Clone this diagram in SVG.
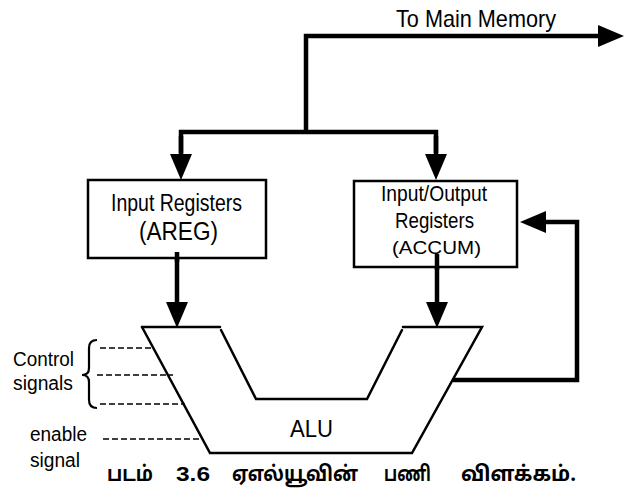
<svg xmlns="http://www.w3.org/2000/svg" width="624" height="488" viewBox="0 0 624 488">
<style>
.t{font-family:"Liberation Sans",Arial,sans-serif;fill:#000}
.bus{fill:none;stroke:#000;stroke-width:4.5;stroke-linejoin:miter;stroke-linecap:butt}
.box{fill:#fff;stroke:#000;stroke-width:2.5}
.alu{fill:none;stroke:#000;stroke-width:2.5;stroke-linecap:round}
.dash{fill:none;stroke:#000;stroke-width:1.3;stroke-dasharray:6 3}
.cap{font-family:"Noto Sans Tamil","Lohit Tamil","Noto Sans","Liberation Sans",sans-serif;font-size:21px;font-weight:bold;fill:#000}
</style>
<defs>
<marker id="ah" markerUnits="userSpaceOnUse" markerWidth="26" markerHeight="22" refX="0" refY="11" orient="auto">
<path d="M0,0 L26,11 L0,22 z" fill="#000"/>
</marker>
</defs>
<rect width="624" height="488" fill="#fff"/>
<g id="connectors">
<path class="bus" d="M306,132 V36 H598" marker-end="url(#ah)"/>
<path class="bus" d="M181,153 V132 H436 V153"/>
<path class="bus" d="M181,136 V154" marker-end="url(#ah)"/>
<path class="bus" d="M436,136 V154" marker-end="url(#ah)"/>
<path class="bus" d="M177,252 V302" marker-end="url(#ah)"/>
<path class="bus" d="M437,254 V302" marker-end="url(#ah)"/>
<path class="bus" d="M453,380 H577 V222 H546" marker-end="url(#ah)"/>
</g>
<g id="memory-label">
<text class="t" x="396" y="27" font-size="24" textLength="160" lengthAdjust="spacingAndGlyphs">To Main Memory</text>
</g>
<g id="areg">
<rect class="box" x="88" y="180" width="178" height="78"/>
<text class="t" x="111" y="211" font-size="23" textLength="131" lengthAdjust="spacingAndGlyphs">Input Registers</text>
<text class="t" x="139" y="240" font-size="25" textLength="79" lengthAdjust="spacingAndGlyphs">(AREG)</text>
<path class="bus" d="M177,252 V262"/>
</g>
<g id="accum">
<rect class="box" x="354" y="181" width="163" height="86"/>
<text class="t" x="381" y="201" font-size="22.5" textLength="106" lengthAdjust="spacingAndGlyphs">Input/Output</text>
<text class="t" x="395" y="228" font-size="22.5" textLength="79" lengthAdjust="spacingAndGlyphs">Registers</text>
<text class="t" x="392" y="254" font-size="19" textLength="89" lengthAdjust="spacingAndGlyphs">(ACCUM)</text>
<path class="bus" d="M437,254 V270"/>
</g>
<g id="alu">
<path class="alu" d="M142,327 H220"/>
<path class="alu" d="M221,330 L256,399 H367 L402,330"/>
<path class="alu" d="M403,327 H482 L412,453 H210 L142,327"/>
<text class="t" x="290" y="437" font-size="23" textLength="43" lengthAdjust="spacingAndGlyphs">ALU</text>
</g>
<g id="control-signals">
<path class="dash" d="M100,348 H154 M97,375 H173 M100,404 H185"/>
<path d="M97,340 Q89,340 89,348 V368 Q89,375 82,375 Q89,375 89,382 V400 Q89,408 97,408" fill="none" stroke="#000" stroke-width="2.2"/>
<text class="t" x="13" y="366" font-size="20" textLength="61" lengthAdjust="spacingAndGlyphs">Control</text>
<text class="t" x="13" y="390" font-size="20" textLength="60" lengthAdjust="spacingAndGlyphs">signals</text>
</g>
<g id="enable-signal">
<path class="dash" d="M103,439 H199"/>
<text class="t" x="30" y="441" font-size="20" textLength="57" lengthAdjust="spacingAndGlyphs">enable</text>
<text class="t" x="30" y="467" font-size="20" textLength="50" lengthAdjust="spacingAndGlyphs">signal</text>
</g>
<g id="caption">
<text class="cap" x="107" y="481" textLength="46" lengthAdjust="spacingAndGlyphs">படம்</text>
<text class="cap" x="176" y="481" style="font-family:'Liberation Sans',sans-serif;font-size:20px" textLength="34" lengthAdjust="spacingAndGlyphs">3.6</text>
<text class="cap" x="232" y="481" textLength="126" lengthAdjust="spacingAndGlyphs">ஏஎல்யூவின்</text>
<text class="cap" x="384" y="481" textLength="47" lengthAdjust="spacingAndGlyphs">பணி</text>
<text class="cap" x="461" y="481" textLength="115" lengthAdjust="spacingAndGlyphs">விளக்கம்.</text>
</g>
</svg>
